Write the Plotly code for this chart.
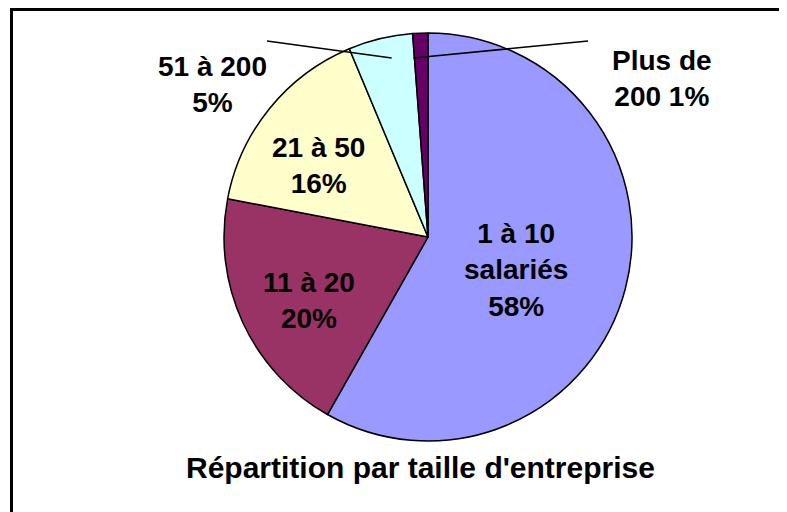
import math
import plotly.graph_objects as go

# ---- data ----
categories = ["1 à 10 salariés", "11 à 20", "21 à 50", "51 à 200", "Plus de 200"]
label_text = ["1 à 10<br>salariés", "11 à 20", "21 à 50", "51 à 200", "Plus de<br>200"]
values = [58.2, 19.8, 15.7, 5.1, 1.2]
colors = ["#9999FF", "#993366", "#FFFFCC", "#CCFFFF", "#660066"]
title_text = "Répartition par taille d'entreprise"

W, H = 787, 512
OFF = 8  # page body margin
CX, CY, R = 428, 237, 204  # pie centre / radius in page pixels

def px(x):
    return (x - OFF) / W

def py(y):
    return 1 - (y - OFF) / H

fig = go.Figure()
fig.add_trace(go.Pie(
    labels=categories,
    values=values,
    sort=False,
    direction="clockwise",
    rotation=0,
    textinfo="none",
    hoverinfo="label+percent",
    marker=dict(colors=colors, line=dict(color="black", width=1.5)),
    domain=dict(x=[px(CX - R), px(CX + R)], y=[py(CY + R), py(CY - R)]),
    showlegend=False,
))

total = sum(values)
pcts = [round(v / total * 100) for v in values]

label_pos = [(516, 270), (309, 300), (318, 165), (212, 84), (662, 78)]
font = dict(family="Liberation Sans, Arial, sans-serif", size=28, color="black", weight="bold")

annotations = []
for i, (txt, p) in enumerate(zip(label_text, pcts)):
    text = f"{txt} {p}%" if i == 4 else f"{txt}<br>{p}%"
    x, y = label_pos[i]
    annotations.append(dict(x=px(x), y=py(y), xref="paper", yref="paper", text=text,
                            showarrow=False, font=font, xanchor="center", yanchor="middle"))

annotations.append(dict(x=px(420), y=py(467), xref="paper", yref="paper", text=title_text,
                        showarrow=False, xanchor="center", yanchor="middle",
                        font=dict(family="Liberation Sans, Arial, sans-serif", size=30,
                                  color="black", weight="bold")))

# leader lines for the two small slices
cum = 0
mids = []
for v in values:
    mids.append((cum + v / 2) / total * 360)
    cum += v
shapes = []
starts = {3: (267, 41), 4: (588, 41)}
ends_r = {3: 0.895, 4: 0.88}
ends_da = {3: 2.0, 4: -2.5}
for i, (sx, sy) in starts.items():
    a = math.radians(mids[i] + ends_da[i])
    ex = CX + ends_r[i] * R * math.sin(a)
    ey = CY - ends_r[i] * R * math.cos(a)
    shapes.append(dict(type="line", xref="paper", yref="paper",
                       x0=px(sx), y0=py(sy), x1=px(ex), y1=py(ey),
                       line=dict(color="black", width=1.5)))

# outer frame
shapes.append(dict(type="rect", xref="paper", yref="paper",
                   x0=px(11.5), y0=-0.05, x1=1.05, y1=py(9.5),
                   line=dict(color="black", width=3)))

fig.update_layout(
    width=W, height=H,
    margin=dict(l=0, r=0, t=0, b=0),
    paper_bgcolor="white", plot_bgcolor="white",
    annotations=annotations, shapes=shapes,
)
fig.write_html("out.html")
